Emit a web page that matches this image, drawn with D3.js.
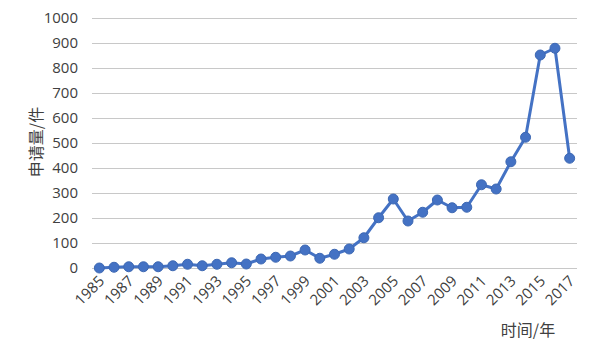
<!DOCTYPE html>
<html><head><meta charset="utf-8">
<script src="https://cdn.jsdelivr.net/npm/d3@7"></script>
<style>body{margin:0;background:#fff}svg{display:block}</style>
</head><body>
<svg id="c" width="600" height="360"></svg>
<script>
const years = d3.range(1985, 2018).map(String);
const values = [0,3,5,5,5,9,15,9,15,21,16,36,43,48,72,39,55,76,121,201,276,188,223,272,241,243,333,316,425,523,852,879,439];
const yTicks = [0,100,200,300,400,500,600,700,800,900,1000];
const xTickLabels = years.filter((d,i)=>i%2===0);
const yTitle = "申请量/件";
const xTitle = "时间/年";

const svg = d3.select("#c");
const m = {l:92, r:577, t:18, b:268};
const x = d3.scaleBand().domain(years).range([m.l, m.r]);
const y = d3.scaleLinear().domain([0,1000]).range([m.b, m.t]);
const font = "'Open Sans','Noto Sans CJK SC',sans-serif";
const txt = "#404040";

const ga = svg.append("g").attr("transform",`translate(${m.l},0)`)
  .call(d3.axisLeft(y).tickValues(yTicks).tickFormat(d3.format("d")).tickSize(-(m.r-m.l)).tickPadding(14));
ga.select(".domain").remove();
ga.selectAll(".tick line").attr("stroke","#c8c8c8").attr("stroke-width",1);
ga.selectAll(".tick text").attr("fill",txt).style("font-size","15px").style("font-family",font);

const gx = svg.append("g").attr("transform",`translate(0,${m.b})`)
  .call(d3.axisBottom(x).tickValues(xTickLabels).tickSize(0).tickPadding(0));
gx.select(".domain").remove();
gx.selectAll(".tick text").attr("fill",txt).style("font-size","15px").style("font-family",font)
  .attr("text-anchor","end").attr("dy","0").attr("transform","translate(6,14) rotate(-45)");

const line = d3.line().x((d,i)=>x(years[i])+x.bandwidth()/2).y(d=>y(d));
svg.append("path").datum(values).attr("d",line).attr("fill","none")
  .attr("stroke","#4472C4").attr("stroke-width",3).attr("stroke-linejoin","round");
svg.selectAll("circle.p").data(values).join("circle").attr("class","p")
  .attr("cx",(d,i)=>x(years[i])+x.bandwidth()/2).attr("cy",d=>y(d)).attr("r",5)
  .attr("fill","#4472C4").attr("stroke","#3d68b3").attr("stroke-width",1);

svg.append("text").attr("transform","translate(42,142) rotate(-90)")
  .attr("text-anchor","middle").attr("fill",txt)
  .style("font-size","16px").style("font-family","'Noto Sans CJK SC',sans-serif").text(yTitle);
svg.append("text").attr("x",528).attr("y",336).attr("text-anchor","middle").attr("fill",txt)
  .style("font-size","16px").style("font-family","'Noto Sans CJK SC',sans-serif").text(xTitle);
</script>
</body></html>
